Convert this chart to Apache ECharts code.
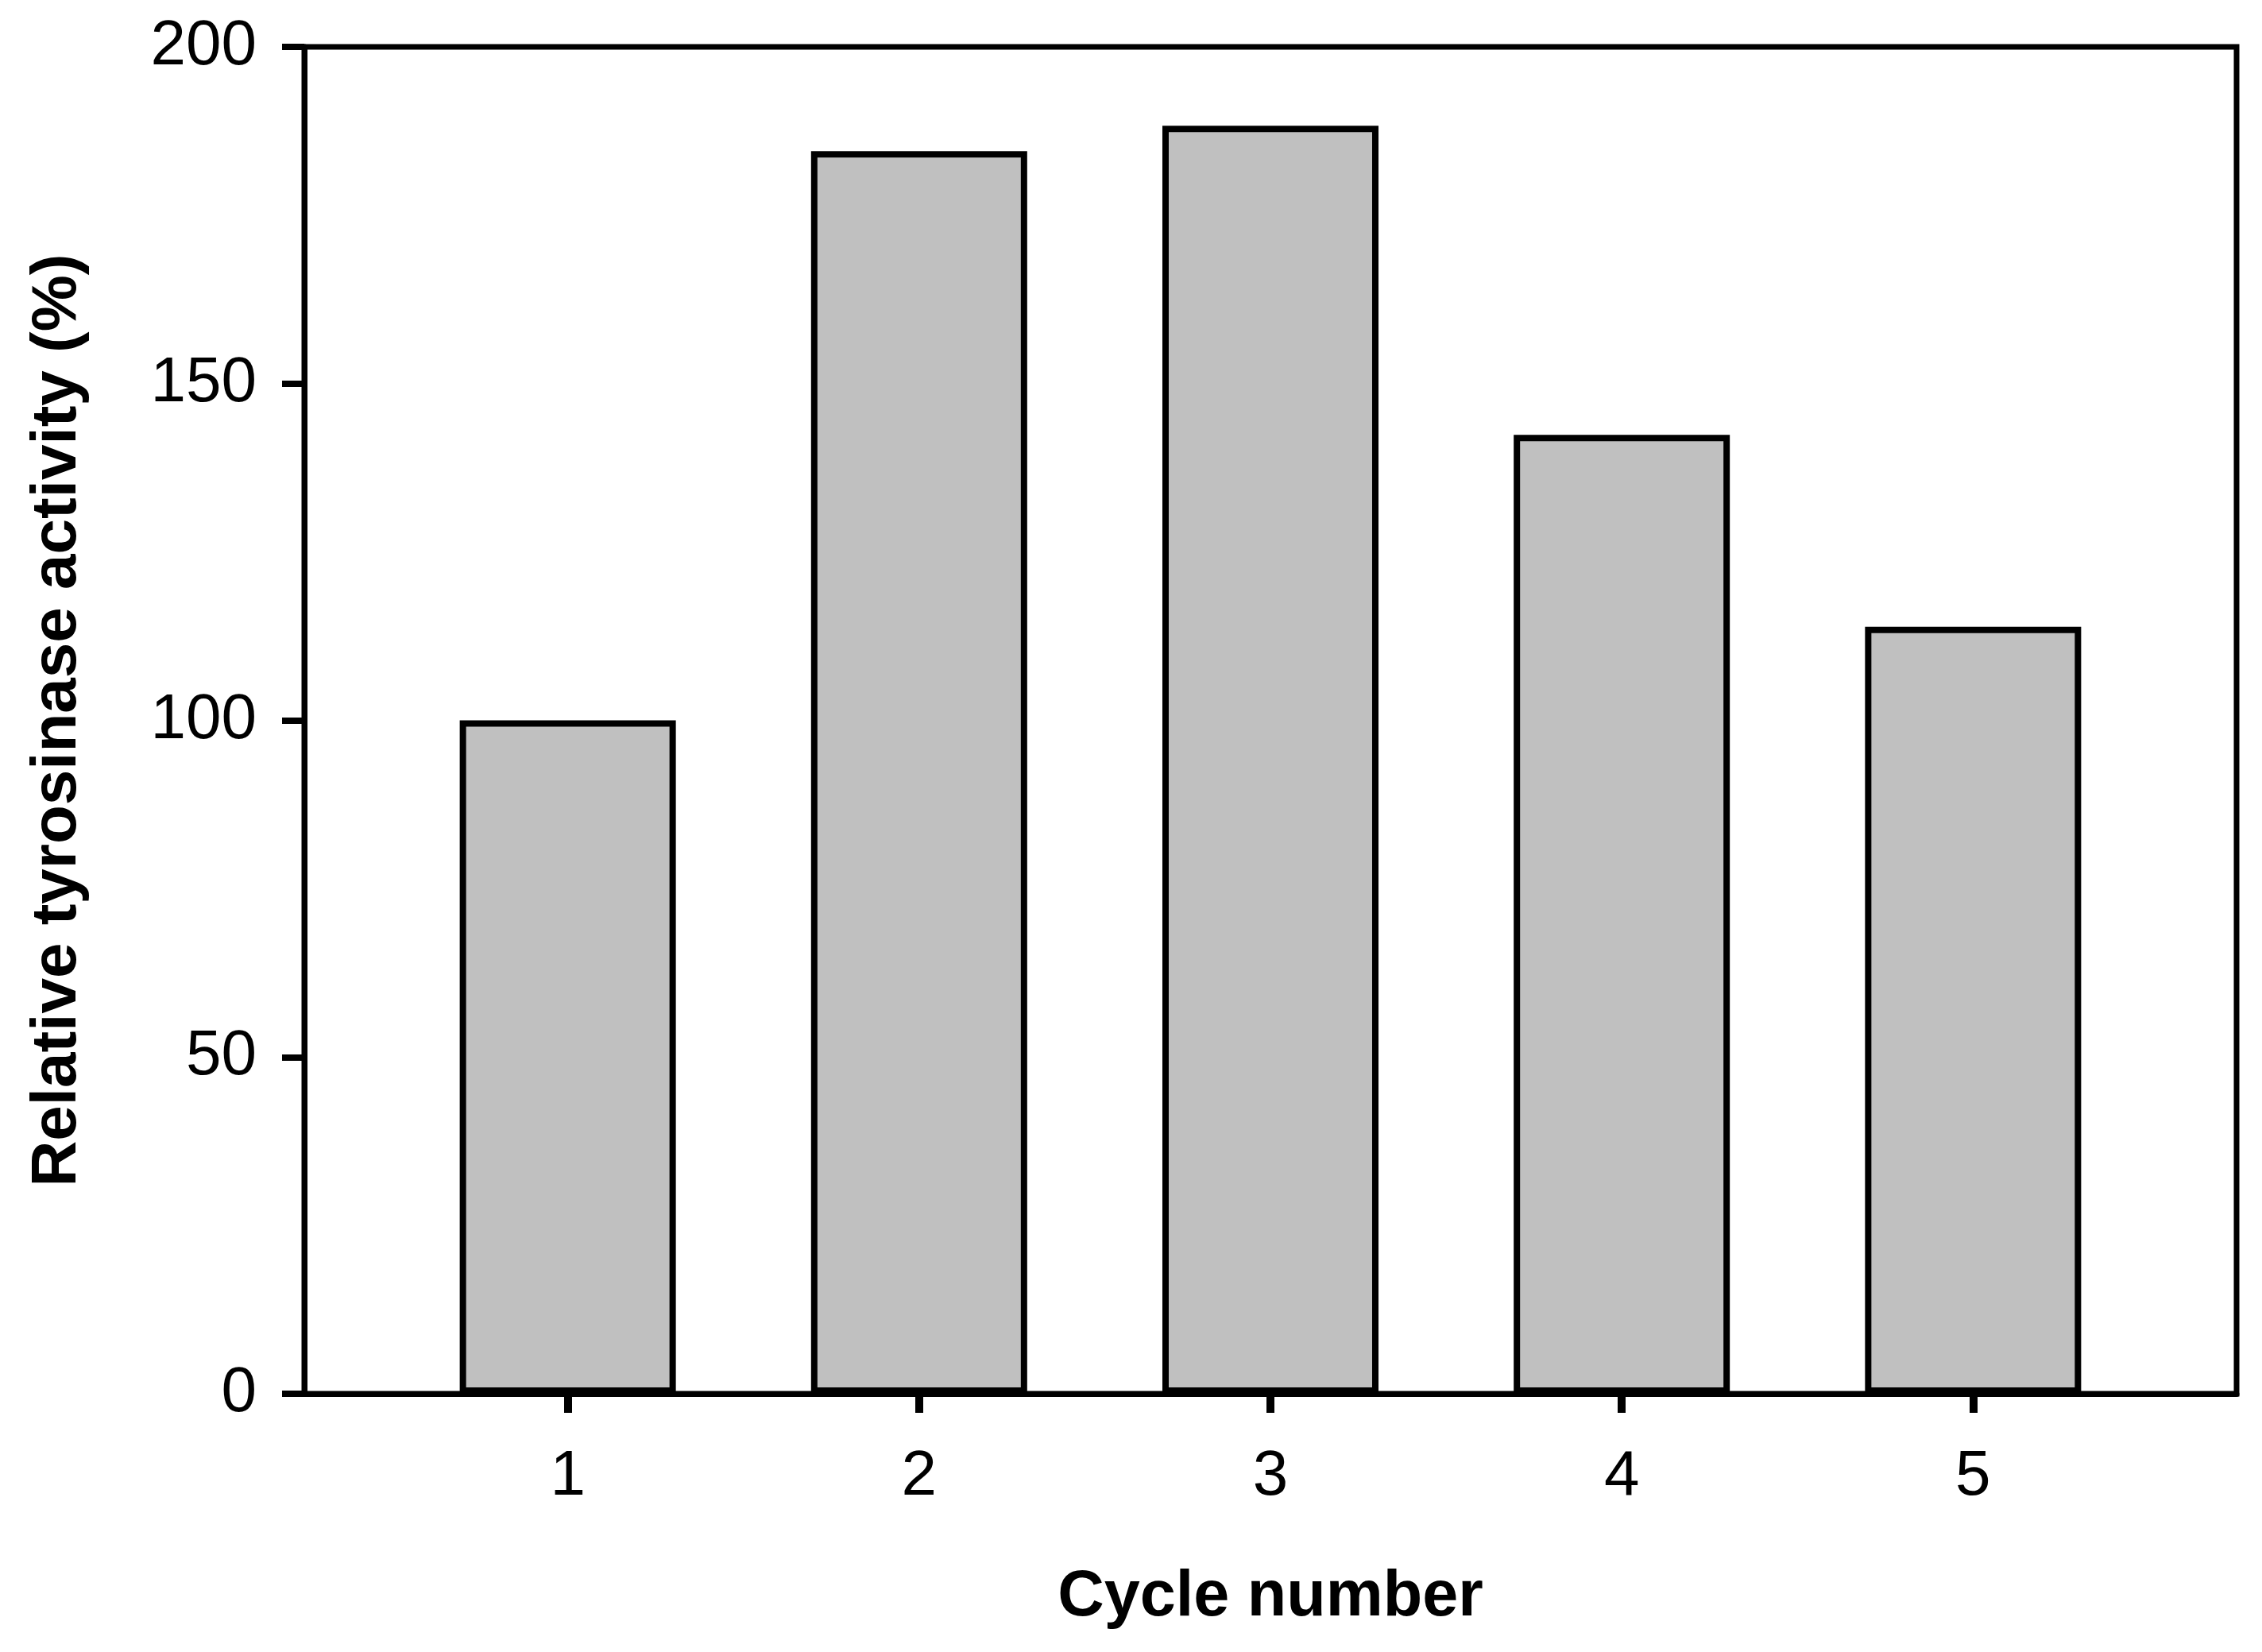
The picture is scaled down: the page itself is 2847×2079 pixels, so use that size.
<!DOCTYPE html>
<html><head><meta charset="utf-8">
<script src="https://cdn.jsdelivr.net/npm/echarts@6/dist/echarts.min.js"></script>
<style>html,body{margin:0;padding:0;background:#fff}#c{width:2847px;height:2079px}</style>
</head><body><div id="c"></div>
<script>
const cycles = [1, 2, 3, 4, 5];
const activity = [100, 184.5, 188.3, 142.4, 113.9];
const yTicks = [0, 50, 100, 150, 200];
const xTitle = 'Cycle number';
const yTitle = 'Relative tyrosinase activity (%)';

const FONT = '"Liberation Sans", Arial, sans-serif';
const chart = echarts.init(document.getElementById('c'), null, {renderer: 'canvas'});
chart.setOption({
  animation: false,
  backgroundColor: '#fff',
  grid: {left: 383, right: 32, top: 59, bottom: 325, show: true, borderColor: '#000', borderWidth: 7, backgroundColor: 'transparent', outerBoundsMode: 'none'},
  xAxis: {
    type: 'value', min: 0.25, max: 5.75,
    name: xTitle, nameLocation: 'middle', nameGap: 216,
    nameTextStyle: {fontFamily: FONT, fontSize: 81, fontWeight: 'bold', color: '#000', lineHeight: 81},
    axisLine: {show: true, lineStyle: {color: '#000', width: 7}},
    axisTick: {show: true, length: 24, lineStyle: {color: '#000', width: 10}, customValues: cycles},
    axisLabel: {fontFamily: FONT, fontSize: 80, color: '#000', margin: 65, lineHeight: 80, customValues: cycles},
    splitLine: {show: false}
  },
  yAxis: {
    type: 'value', min: yTicks[0], max: yTicks[yTicks.length - 1], interval: 50,
    name: yTitle, nameLocation: 'middle', nameGap: 270,
    nameTextStyle: {fontFamily: FONT, fontSize: 80, fontWeight: 'bold', color: '#000', lineHeight: 80},
    axisLine: {show: true, lineStyle: {color: '#000', width: 7}},
    axisTick: {show: true, length: 28, lineStyle: {color: '#000', width: 8}},
    axisLabel: {fontFamily: FONT, fontSize: 80, color: '#000', margin: 60},
    splitLine: {show: false}
  },
  series: [{
    type: 'bar',
    barWidth: 272,
    data: cycles.map((c, i) => [c, activity[i]]),
    itemStyle: {color: '#c0c0c0', borderColor: '#000', borderWidth: 8}
  }]
});
</script></body></html>
